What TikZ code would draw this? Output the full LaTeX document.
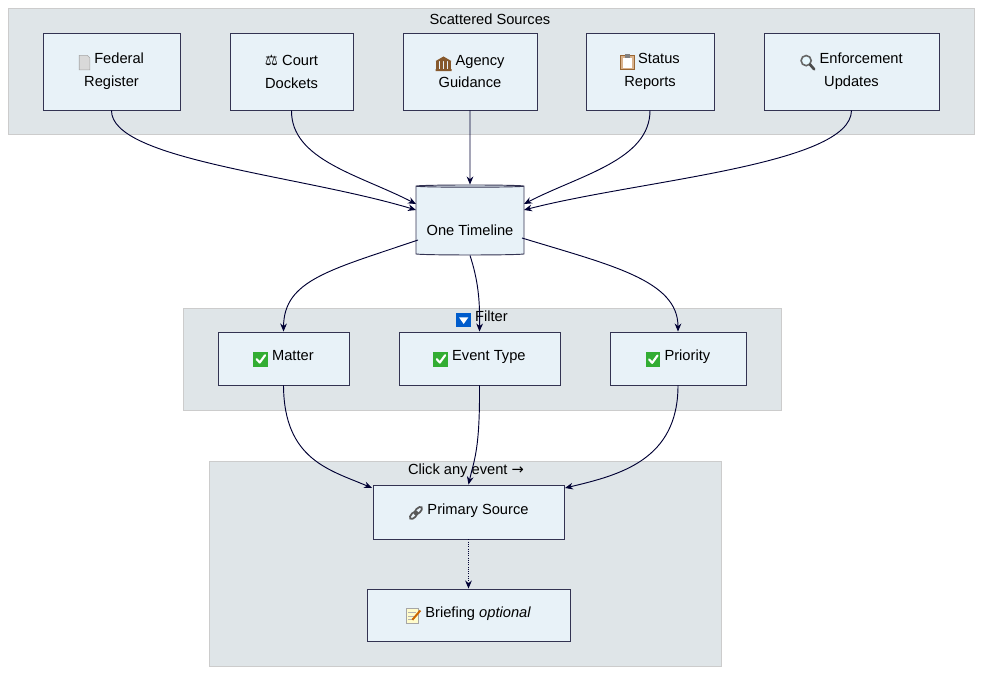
\documentclass[tikz,border=0pt]{standalone}
\usepackage{fontspec}
\setmainfont{Liberation Sans}
\newfontfamily\emj{DejaVu Sans}
\usetikzlibrary{shapes.geometric,arrows.meta}
\definecolor{clusfill}{HTML}{DFE5E8}
\definecolor{boxfill}{HTML}{E8F2F8}
\newcommand{\icchk}{\tikz[baseline=-1.5pt,x=1pt,y=1pt]{\fill[green!60!black!80] (-5.5,-6) rectangle (5.5,5);\draw[white,line width=1.6pt,line cap=round,line join=round] (-3,-0.5)--(-0.7,-3)--(3.3,2.5);}}
\newcommand{\icdown}{\tikz[baseline=-1.5pt,x=1pt,y=1pt]{\fill[blue!55!cyan!80!black] (-5.5,-6) rectangle (5.5,5);\fill[white] (-3.5,1.5)--(3.5,1.5)--(0,-3.5)--cycle;}}
\newcommand{\icdoc}{\tikz[baseline=-1.5pt,x=1pt,y=1pt]{\fill[gray!30,draw=gray!70] (-4,-6)--(-4,5)--(2,5)--(4,3)--(4,-6)--cycle;}}
\newcommand{\icbank}{\tikz[baseline=-1.5pt,x=1pt,y=1pt]{\fill[brown!70!black] (-6,1.5)--(0,5)--(6,1.5)--cycle (-6,-6) rectangle (6,-4.5);\foreach \i in {-4.5,-1.5,1.5,4.5}\fill[brown!70!black] (\i-0.8,-4.5) rectangle (\i+0.8,1.5);}}
\newcommand{\icclip}{\tikz[baseline=-1.5pt,x=1pt,y=1pt]{\fill[brown!60,draw=brown!80!black] (-5,-6) rectangle (5,4.5);\fill[white] (-3.5,-4.8) rectangle (3.5,3);\fill[gray] (-2,3) rectangle (2,5.5);}}
\newcommand{\icmag}{\tikz[baseline=-1.5pt,x=1pt,y=1pt]{\draw[gray!80!black,line width=1.2pt,fill=cyan!10] (-1,1) circle (3.8);\draw[black!70,line width=2pt,line cap=round] (1.8,-1.8)--(5,-5.5);}}
\newcommand{\iclink}{\tikz[baseline=-1.5pt,x=1pt,y=1pt]{\draw[gray!70!black,line width=1.3pt,rotate=45] (-2.5,0) ellipse (3.5 and 1.8) (2.5,0) ellipse (3.5 and 1.8);}}
\newcommand{\icmemo}{\tikz[baseline=-1.5pt,x=1pt,y=1pt]{\fill[yellow!20,draw=gray!70] (-5,-6) rectangle (4,5);\draw[gray!60] (-3.5,2)--(2,2) (-3.5,-0.5)--(2,-0.5) (-3.5,-3)--(0,-3);\draw[orange!80!black,line width=1.5pt] (-0.5,-3.5)--(5.5,3.5);}}
\begin{document}
\begin{tikzpicture}[x=0.75pt,y=-0.75pt,
  box/.style={draw=black!80!blue!60!gray,fill=boxfill,line width=0.7pt,align=center,font=\fontsize{11}{17}\selectfont},
  lbl/.style={font=\fontsize{11}{13}\selectfont},
  edge/.style={draw=black!80!blue,line width=0.7pt,-{Stealth[length=6pt,width=5pt]}}]
\useasboundingbox (0,0) rectangle (990,681);
% clusters
\fill[clusfill,draw=black!20] (8,8) rectangle (974,134);
\node[lbl] (c1) at (490,19) {Scattered Sources};
\fill[clusfill,draw=black!20] (183,308) rectangle (781,410);
\node[lbl] (c2) at (482,319) {\icdown\ Filter};
\fill[clusfill,draw=black!20] (209,461) rectangle (721,666);
\node[lbl] (c3) at (466,471) {Click any event {\emj →}};
% sources
\node[box,minimum width=137pt*0.75,minimum height=77pt*0.75] (fr) at (111.5,71.5) {\icdoc\ Federal\\Register};
\node[box,minimum width=123pt*0.75,minimum height=77pt*0.75] (cd) at (291.5,71.5) {{\emj ⚖} Court\\Dockets};
\node[box,minimum width=134pt*0.75,minimum height=77pt*0.75] (ag) at (470,71.5) {\icbank\ Agency\\Guidance};
\node[box,minimum width=128pt*0.75,minimum height=77pt*0.75] (sr) at (650,71.5) {\icclip\ Status\\Reports};
\node[box,minimum width=175pt*0.75,minimum height=77pt*0.75] (eu) at (851.5,71.5) {\icmag\ Enforcement\\Updates};
% timeline cylinder
\node[box,cylinder,shape border rotate=90,aspect=0.25,minimum width=108pt*0.75,minimum height=70pt*0.75] (tl) at (470,221) {};
\node[box,draw=none,fill=none] (tlt) at (470,230) {One Timeline};
% filters
\node[box,minimum width=131pt*0.75,minimum height=53pt*0.75] (mt) at (283.5,358.5) {\icchk\ Matter};
\node[box,minimum width=161pt*0.75,minimum height=53pt*0.75] (et) at (479.5,358.5) {\icchk\ Event Type};
\node[box,minimum width=136pt*0.75,minimum height=53pt*0.75] (pr) at (678,358.5) {\icchk\ Priority};
% click
\node[box,minimum width=191pt*0.75,minimum height=54pt*0.75] (ps) at (468.5,512) {\iclink\ Primary Source};
\node[box,minimum width=203pt*0.75,minimum height=52pt*0.75] (br) at (468.5,615) {\icmemo\ Briefing \textit{optional}};
% edges
\coordinate (t1) at (416,210);
\coordinate (t2) at (416,204);
\coordinate (t3) at (524,204);
\coordinate (t4) at (524,210);
\draw[edge] (fr.south) .. controls (111,160) and (300,175) .. (t1);
\draw[edge] (cd.south) .. controls (291,160) and (360,175) .. (t2);
\draw[edge] (ag.south) -- (tl.north);
\draw[edge] (sr.south) .. controls (650,160) and (580,175) .. (t3);
\draw[edge] (eu.south) .. controls (851,165) and (640,180) .. (t4);
\coordinate (s1) at (418,240);
\coordinate (s3) at (522,238);
\draw[edge] (s1) .. controls (330,270) and (284,280) .. (mt.north);
\draw[edge] (tl.south) .. controls (478,280) and (480,300) .. (et.north);
\draw[edge] (s3) .. controls (610,265) and (678,280) .. (pr.north);
\coordinate (p1) at (372,488);
\coordinate (p3) at (565,488);
\draw[edge] (mt.south) .. controls (284,460) and (330,470) .. (p1);
\draw[edge] (et.south) .. controls (480,450) and (474,460) .. (ps.north);
\draw[edge] (pr.south) .. controls (678,460) and (620,475) .. (p3);
\draw[edge,densely dotted] (ps.south) -- (br.north);
\end{tikzpicture}
\end{document}
